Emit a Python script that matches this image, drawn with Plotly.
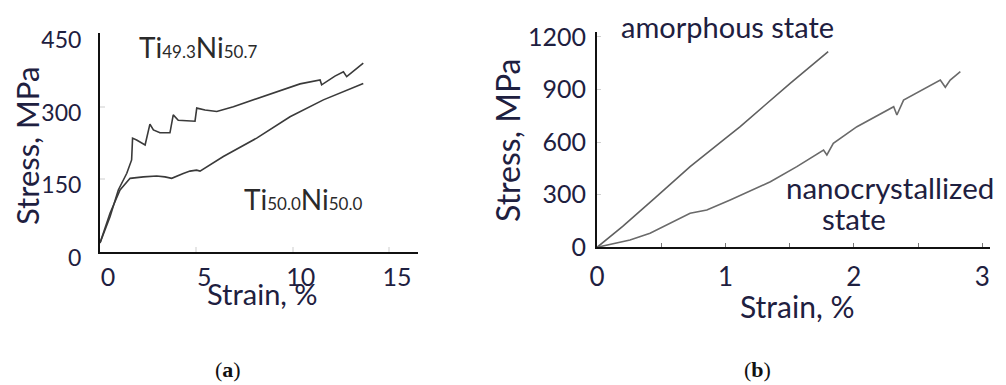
import plotly.graph_objects as go

# ---------- data (a) ----------
strain_a_ti493 = [0, 0.52, 0.95, 1.39, 1.64, 1.69, 1.90, 2.34, 2.59, 2.77, 3.11, 3.63, 3.80, 4.06, 4.93,
                  5.02, 5.45, 6.06, 6.92, 8.47, 9.86, 10.38, 11.42, 11.50, 12.19, 12.63, 12.80, 13.66]
stress_a_ti493 = [18.6, 72.9, 128, 162.5, 190, 235, 231, 221, 264, 252, 246, 246, 283, 272, 270,
                  297, 293, 290, 300, 321, 341, 347, 355, 345, 363, 372, 362, 390]
strain_a_ti500 = [0, 0.52, 1.04, 1.56, 2.25, 2.94, 3.37, 3.72, 4.32, 4.67, 5.01, 5.19, 6.40, 8.13,
                  9.86, 11.59, 13.66]
stress_a_ti500 = [18.6, 80, 128, 152, 155, 157, 155, 152, 162, 167, 169, 167, 197, 235, 279, 314, 348]
ticks_a_x = [0, 5, 10, 15]
ticks_a_y = [0, 150, 300, 450]

# ---------- data (b) ----------
strain_b_amorph = [0, 0.2, 0.45, 0.725, 1.0, 1.115, 1.3, 1.504, 1.8]
stress_b_amorph = [0, 120, 280, 460, 622, 688, 806, 935, 1116]
strain_b_nano = [0, 0.1, 0.257, 0.413, 0.569, 0.725, 0.855, 1.037, 1.35, 1.556, 1.764, 1.79, 1.84,
                 2.024, 2.31, 2.335, 2.387, 2.673, 2.712, 2.75, 2.829]
stress_b_nano = [0, 15, 42, 80, 137, 194, 213, 270, 374, 460, 555, 527, 593, 688, 802, 755, 840,
                 954, 913, 954, 1002]
ticks_b_x = [0, 1, 2, 3]
ticks_b_y = [0, 300, 600, 900, 1200]

W, H = 1006, 385
OFF = 8  # page body margin
TXT = "#1e2040"
FONT = "Lato"


def px(x):
    return (x - OFF) / W


def py(y):
    return 1 - (y - OFF) / H


fig = go.Figure()
fig.add_trace(go.Scatter(x=strain_a_ti493, y=stress_a_ti493, mode="lines",
                         line=dict(color="#3a3a3a", width=1.6), xaxis="x", yaxis="y",
                         showlegend=False))
fig.add_trace(go.Scatter(x=strain_a_ti500, y=stress_a_ti500, mode="lines",
                         line=dict(color="#3a3a3a", width=1.6), xaxis="x", yaxis="y",
                         showlegend=False))
fig.add_trace(go.Scatter(x=strain_b_amorph, y=stress_b_amorph, mode="lines",
                         line=dict(color="#606060", width=1.6), xaxis="x2", yaxis="y2",
                         showlegend=False))
fig.add_trace(go.Scatter(x=strain_b_nano, y=stress_b_nano, mode="lines",
                         line=dict(color="#6a6a6a", width=1.6), xaxis="x2", yaxis="y2",
                         showlegend=False))

common = dict(showgrid=False, zeroline=False, showline=True, linecolor="#111", linewidth=2,
              fixedrange=True, automargin=False)

fig.update_layout(
    template="none",
    width=W, height=H, margin=dict(l=0, r=0, t=0, b=0, pad=0),
    paper_bgcolor="white", plot_bgcolor="white",
    font=dict(family=FONT, color=TXT),
    xaxis=dict(domain=[px(100), px(418)], range=[0, 16.5], tickvals=ticks_a_x,
               ticks="inside", ticklen=5, tickcolor="#e6e6e6", tickwidth=2,
               tickfont=dict(size=25, color=TXT), ticklabelshift=8, ticklabelstandoff=2,
               anchor="y", **common),
    yaxis=dict(domain=[py(252), py(33)], range=[0, 452], tickvals=ticks_a_y,
               ticks="inside", ticklen=5, tickcolor="#e6e6e6", tickwidth=2,
               tickfont=dict(size=23, color=TXT), ticklabelshift=6, ticklabelstandoff=12,
               anchor="x", **common),
    xaxis2=dict(domain=[px(597), px(990)], range=[0, 3.06], tickvals=ticks_b_x,
                ticks="inside", ticklen=4, tickcolor="#777", tickwidth=1,
                minor=dict(dtick=0.5, ticks="inside", ticklen=4, tickcolor="#777"),
                tickfont=dict(size=26, color=TXT), ticklabelstandoff=5,
                anchor="y2", **common),
    yaxis2=dict(domain=[py(247.3), py(31.7)], range=[0, 1230], tickvals=ticks_b_y,
                ticks="inside", ticklen=4, tickcolor="#d0d0d0", tickwidth=1,
                tickfont=dict(size=25, color=TXT), ticklabelstandoff=4,
                anchor="x2", **common),
)

ann = []


def add(text, x, y, size, color=TXT, angle=0, family=FONT):
    ann.append(dict(text=text, x=px(x), y=py(y), xref="paper", yref="paper",
                    showarrow=False, xanchor="center", yanchor="middle",
                    textangle=angle, font=dict(size=size, color=color, family=family)))


add("Stress, MPa", 27.5, 146.5, 31, angle=-90)
add("Strain, %", 262, 293, 29)
add("Stress, MPa", 507, 140, 32, angle=-90)
add("Strain, %", 797, 306, 30)
add("amorphous state", 727, 26, 29)
add("nanocrystallized", 889.5, 187, 29.5)
add("state", 854, 219, 29.5)
sub = "<span style='font-size:17px'>%s</span>"
add("Ti" + sub % "49.3" + "Ni" + sub % "50.7", 197.5, 47, 28, color="#2a2a2a")
add("Ti" + sub % "50.0" + "Ni" + sub % "50.0", 303, 199, 28, color="#2a2a2a")
add("(<b>a</b>)", 228, 369, 22, color="#111", family="Liberation Serif")
add("(<b>b</b>)", 757, 369, 22, color="#111", family="Liberation Serif")

fig.update_layout(annotations=ann)
fig.write_html("out.html")
